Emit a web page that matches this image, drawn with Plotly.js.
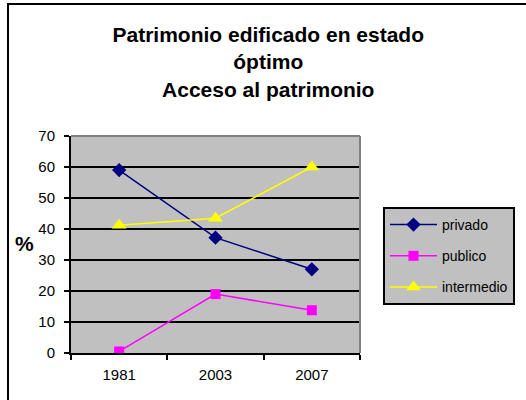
<!DOCTYPE html>
<html>
<head>
<meta charset="utf-8">
<script src="https://cdn.plot.ly/plotly-3.0.1.min.js"></script>
<style>html,body{margin:0;padding:0;background:#fff;}#chart{width:526px;height:400px;}</style>
</head>
<body>
<div id="chart"></div>
<script>
var years = ["1981", "2003", "2007"];
var privado = [59, 37.2, 27];
var publico = [0.5, 19, 13.8];
var intermedio = [41.2, 43.5, 60];
var yTicks = [0, 10, 20, 30, 40, 50, 60, 70];

var FONT = "Liberation Sans, Arial, sans-serif";

var traces = [
  {x: years, y: privado, name: "privado", type: "scatter", mode: "lines+markers",
   line: {color: "#000080", width: 1.5}, marker: {symbol: "diamond", size: 11, color: "#000080"},
   legendgroup: "a"},
  {x: years, y: publico, name: "publico", type: "scatter", mode: "lines+markers",
   line: {color: "#FF00FF", width: 1.5}, marker: {symbol: "square", size: 10, color: "#FF00FF"},
   legendgroup: "b"},
  {x: years, y: intermedio, name: "intermedio", type: "scatter", mode: "lines+markers",
   line: {color: "#FFFF00", width: 1.5}, marker: {symbol: "triangle-up", size: 13, color: "#FFFF00"},
   legendgroup: "c"}
];

var L = 71, R = 360, T = 136, B = 353;
var W = R - L, H = B - T;

var layout = {
  width: 526, height: 400,
  margin: {l: L, r: 526 - R, t: T, b: 400 - B, pad: 0, autoexpand: false},
  paper_bgcolor: "#FFFFFF",
  plot_bgcolor: "#C0C0C0",
  font: {family: FONT, color: "#000000", size: 14},
  title: {
    text: "<b>Patrimonio edificado en estado<br>óptimo<br>Acceso al patrimonio</b>",
    font: {family: FONT, size: 21, color: "#000000"},
    xref: "container", x: 0.51, xanchor: "center",
    yref: "container", y: 0.895, yanchor: "top"
  },
  xaxis: {
    type: "category", range: [-0.5, 2.5],
    showline: true, linecolor: "#000000", linewidth: 2,
    ticks: "outside", tickson: "boundaries", ticklen: 5, tickwidth: 2, tickcolor: "#000000",
    showgrid: false, zeroline: false,
    tickfont: {family: FONT, size: 15, color: "#000000"},
    ticklabelstandoff: 7
  },
  yaxis: {
    range: [0, 70], tickvals: yTicks,
    showline: true, linecolor: "#000000", linewidth: 2,
    ticks: "outside", ticklen: 5, tickwidth: 2, tickcolor: "#000000",
    showgrid: true, gridcolor: "#000000", gridwidth: 1.5,
    zeroline: false,
    tickfont: {family: FONT, size: 15, color: "#000000"},
    ticklabelstandoff: 6
  },
  annotations: [
    {text: "<b>%</b>", xref: "paper", yref: "paper",
     x: (24 - L) / W, y: (B - 243) / H, xanchor: "center", yanchor: "middle",
     showarrow: false, font: {family: FONT, size: 21, color: "#000000"}}
  ],
  legend: {
    x: (383 - L) / W, xanchor: "left",
    y: (B - 207) / H, yanchor: "top",
    bgcolor: "#C0C0C0", bordercolor: "#000000", borderwidth: 2,
    font: {family: FONT, size: 14, color: "#000000"},
    traceorder: "grouped", tracegroupgap: 10, itemwidth: 47
  },
  shapes: [
    {type: "line", xref: "paper", yref: "paper", x0: 0, x1: 1, y0: 1, y1: 1,
     line: {color: "#808080", width: 2}, layer: "above"},
    {type: "line", xref: "paper", yref: "paper", x0: 1, x1: 1, y0: 0, y1: 1,
     line: {color: "#808080", width: 2}, layer: "above"},
    {type: "rect", xref: "paper", yref: "paper",
     x0: (8 - L) / W, x1: (530 - L) / W, y0: (B - 404) / H, y1: (B - 4) / H,
     line: {color: "#000000", width: 2}, fillcolor: "rgba(0,0,0,0)", layer: "below"}
  ],
  showlegend: true
};

Plotly.newPlot("chart", traces, layout, {displayModeBar: false, staticPlot: true});
</script>
</body>
</html>
